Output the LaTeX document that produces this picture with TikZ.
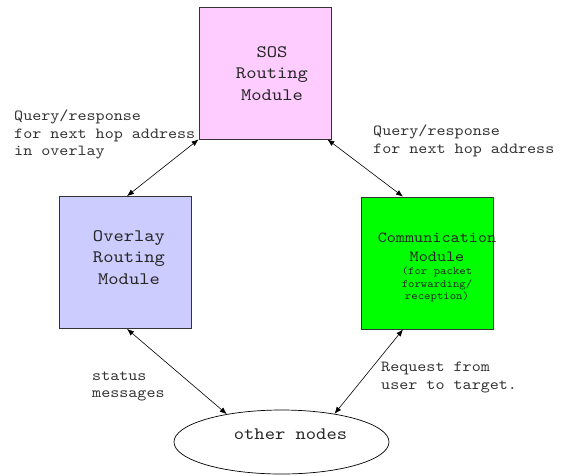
\documentclass[tikz,border=0pt]{standalone}
\usepackage{fontspec}
\newfontfamily\courfont[Extension=.otf, FakeStretch=1.12]{lmmono10-regular}
\usetikzlibrary{arrows.meta,shapes.geometric}
\definecolor{sospink}{HTML}{FFCCFF}
\definecolor{ovlblue}{HTML}{CCCCFF}
\definecolor{comgreen}{HTML}{00FF00}

\begin{document}
\begin{tikzpicture}[x=1pt,y=-1pt,
		module/.style={draw=black!80, line width=0.8pt, minimum width=132pt, minimum height=132pt, inner sep=0pt},
		big/.style={font=\courfont\fontsize{17.5}{21.3}\selectfont, align=center, inner sep=0pt, text=black!85},
		mid/.style={font=\courfont\fontsize{15.5}{19}\selectfont, align=center, inner sep=0pt, text=black!85},
		note/.style={font=\courfont\fontsize{10.9}{12.8}\selectfont, align=center, inner sep=0pt, text=black!85},
		tag/.style={font=\courfont\fontsize{15.4}{17.5}\selectfont, align=left, inner sep=0pt, anchor=west, text=black!80},
		link/.style={{Latex[length=7pt,width=5.5pt]}-{Latex[length=7pt,width=5.5pt]}, line width=0.6pt}]
		%%%%% START %%%%%
		\useasboundingbox (0,0) rectangle (570,475);
		
		\node[module, fill=sospink] (sos) at (265,73) {};
		\node[big] (sostext) at (272,73.5) {SOS\\Routing\\Module};
		
		\node[module, fill=ovlblue] (ovl) at (125.5,262.5) {};
		\node[big] (ovltext) at (129,257.5) {Overlay\\Routing\\Module};
		
		\node[module, fill=comgreen] (comm) at (427,263) {};
		\node[mid] (commtext) at (437,247.5) {Communication\\Module};
		\node[note] (commnote) at (437,284.5) {(for packet\\forwarding/\\reception)};
		
		\node[draw, line width=0.7pt, ellipse, minimum width=215pt, minimum height=64pt, inner sep=0pt] (others) at (281.5,442) {};
		\node[big] (otherstext) at (290.5,434) {other nodes};
		
		\node[tag] (qleft) at (14,134.5) {Query/response\\for next hop address\\in overlay};
		\node[tag] (qright) at (373,141) {Query/response\\for next hop address};
		\node[tag] (status) at (92,386.5) {status\\messages};
		\node[tag] (request) at (381,377.5) {Request from\\user to target.};
		
		\draw[link] (sos.south west) -- ([xshift=1.5pt]ovl.north);
		\draw[link] ([xshift=-4pt]sos.south east) -- ([xshift=-24pt]comm.north);
		\draw[link] ([xshift=1.5pt]ovl.south) -- (others.153);
		\draw[link] ([xshift=-24pt]comm.south) -- (others.28);
		
		%%%%% END %%%%%
\end{tikzpicture}
\end{document}
